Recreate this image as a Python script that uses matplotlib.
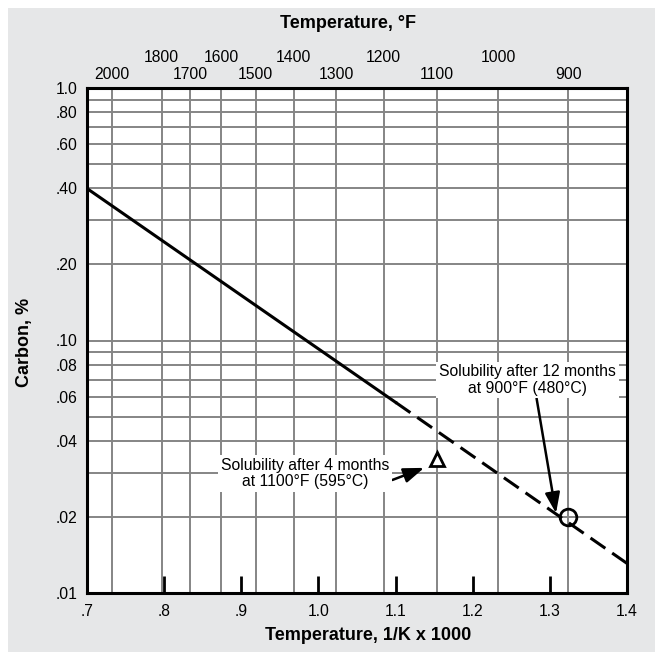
import numpy as np
import matplotlib
matplotlib.use('Agg')
import matplotlib.pyplot as plt
from matplotlib.patches import Rectangle
from matplotlib.ticker import FixedLocator, NullFormatter

plt.rcParams['font.family'] = ['Liberation Sans', 'DejaVu Sans']
plt.rcParams['lines.scale_dashes'] = False

# solubility line, 1/K x 1000 vs carbon %
solid_x = [0.70, 1.10]
solid_y = [0.40, 0.0569]
dash_x = [1.10, 1.40]
dash_y = [0.0569, 0.0131]

# measured points
tri_F, tri_c = 1100, 0.034
circ_F, circ_c = 900, 0.020

# top axis temperatures (F) and which row their labels sit in
temps_F = [2000, 1800, 1700, 1600, 1500, 1400, 1300, 1200, 1100, 1000, 900]
label_row = [0, 1, 0, 1, 0, 1, 0, 1, 0, 1, 0]

x_ticks = [0.7, 0.8, 0.9, 1.0, 1.1, 1.2, 1.3, 1.4]
x_labels = ['.7', '.8', '.9', '1.0', '1.1', '1.2', '1.3', '1.4']
y_ticks = [0.01, 0.02, 0.04, 0.06, 0.08, 0.10, 0.20, 0.40, 0.60, 0.80, 1.0]
y_labels = ['.01', '.02', '.04', '.06', '.08', '.10', '.20', '.40', '.60', '.80', '1.0']


def inv_k(f):
    return 1000.0 / ((f - 32) * 5.0 / 9.0 + 273.15)


fig = plt.figure(figsize=(6.55, 6.52), dpi=100, facecolor='white')
fig.patches.append(Rectangle((8 / 655, 0), 1, 1 - 8 / 652, transform=fig.transFigure,
                             facecolor='#e6e7e8', edgecolor='none', zorder=-10))
ax = fig.add_axes([87 / 655, 1 - 593 / 652, 540 / 655, 505 / 652])
ax.set_facecolor('white')
ax.set_yscale('log')
ax.set_xlim(0.7, 1.4)
ax.set_ylim(0.01, 1.0)

gc = '#858585'
# horizontal grid: every minor decade line
for dec in [0.01, 0.1]:
    for m in range(1, 10):
        ax.axhline(dec * m, color=gc, lw=1.4, zorder=1)
# vertical grid at Fahrenheit temperatures
for f in temps_F:
    ax.axvline(inv_k(f), color=gc, lw=1.4, zorder=1)

ax.plot(solid_x, solid_y, color='black', lw=2.2, zorder=3)
ax.plot(dash_x, dash_y, color='black', lw=2.2, dashes=(13, 6), zorder=3)

ax.plot([inv_k(tri_F)], [tri_c], marker='^', ms=10, mfc='white', mec='black', mew=2, zorder=4)
ax.plot([inv_k(circ_F)], [circ_c], marker='o', ms=12, mfc='none', mec='black', mew=2, zorder=4)

arrow = dict(arrowstyle='-|>,head_length=1.1,head_width=0.4',
             color='black', lw=1.8, shrinkA=0, shrinkB=0)
ax.annotate('Solubility after 4 months\nat 1100°F (595°C)',
            xy=(1.137, 0.0313), xytext=(0.983, 0.0298),
            ha='center', va='center', fontsize=11.3, linespacing=1.1,
            bbox=dict(facecolor='white', edgecolor='none', pad=2),
            arrowprops=dict(arrow, relpos=(1.0, 0.25)),
            zorder=5)
ax.annotate('Solubility after 12 months\nat 900°F (480°C)',
            xy=(1.308, 0.0207), xytext=(1.2707, 0.0698),
            ha='center', va='center', fontsize=11.3, linespacing=1.1,
            bbox=dict(facecolor='white', edgecolor='none', pad=2),
            arrowprops=dict(arrow, relpos=(0.55, 0.0)),
            zorder=5)

ax.set_xticks(x_ticks)
ax.set_xticklabels(x_labels, fontsize=11.3)
ax.tick_params(axis='x', direction='in', length=12, width=2, pad=8, color='black')
ax.yaxis.set_major_locator(FixedLocator(y_ticks))
ax.yaxis.set_minor_formatter(NullFormatter())
ax.set_yticks([], minor=True)
ax.set_yticklabels(y_labels, fontsize=11.3)
ax.tick_params(axis='y', length=0, pad=7)

for s in ax.spines.values():
    s.set_linewidth(2.2)
    s.set_zorder(6)

# top Fahrenheit labels, staggered in two rows
for f, row in zip(temps_F, label_row):
    ax.text(inv_k(f), 1.012 if row == 0 else 1.046, str(f),
            transform=ax.get_xaxis_transform(),
            ha='center', va='bottom', fontsize=11.3)

fig.text(348 / 655, 1 - 24 / 652, 'Temperature, °F', ha='center', va='center',
         fontsize=13, fontweight='bold')
fig.text(368 / 655, 1 - 636 / 652, 'Temperature, 1/K x 1000', ha='center', va='center',
         fontsize=13, fontweight='bold')
fig.text(25 / 655, 1 - 342 / 652, 'Carbon, %', ha='center', va='center',
         fontsize=13, fontweight='bold', rotation=90)

fig.savefig('out.png', dpi=100, facecolor=fig.get_facecolor())
